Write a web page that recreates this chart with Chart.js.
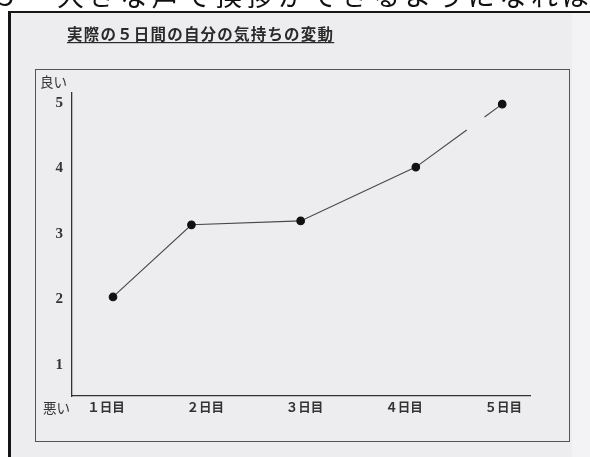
<!DOCTYPE html>
<html>
<head>
<meta charset="utf-8">
<script src="https://cdn.jsdelivr.net/npm/chart.js@4"></script>
<style>
  html, body { margin: 0; padding: 0; background: #fff; }
  #wrap { position: relative; width: 590px; height: 457px; overflow: hidden; }
  canvas { position: absolute; left: 0; top: 0; }
</style>
</head>
<body>
<div id="wrap"><canvas id="chart" width="590" height="457"></canvas></div>
<script>
// 実際の５日間の自分の気持ちの変動
const dayLabels = ['１日目', '２日目', '３日目', '４日目', '５日目'];
const dayTicks = [1, 2, 3, 4, 5];
const pointDay = [1.07, 1.86, 2.96, 4.12, 4.99];   // hand-plotted positions
const feeling = [2.04, 3.14, 3.20, 4.02, 4.98];
const feelingTicks = [1, 2, 3, 4, 5];

const jp = '"Noto Sans CJK JP", "Noto Sans", sans-serif';

// page decorations: scanned sheet, frame, heading, 良い / 悪い
const sheet = {
    id: 'sheet',
    beforeDraw(chart) {
        const ctx = chart.ctx;
        ctx.save();
        ctx.fillStyle = '#ffffff';
        ctx.fillRect(0, 0, 590, 457);
        ctx.fillStyle = '#edecef';
        ctx.fillRect(10, 13, 580, 444);
        ctx.fillStyle = '#f3f2f5';
        ctx.fillRect(572, 13, 18, 444);

        // cut-off line of the page above
        ctx.fillStyle = '#111';
        ctx.textBaseline = 'alphabetic';
        ctx.font = '27px ' + jp;
        ctx.fillText('５', -8, 6);
        ctx.letterSpacing = '4.6px';
        ctx.fillText('大きな声で挨拶ができるようになれば、', 57, 6);
        ctx.letterSpacing = '0px';

        // outer border
        ctx.fillStyle = '#151515';
        ctx.fillRect(8, 11, 582, 2);
        ctx.fillRect(8, 11, 3, 446);

        // inner frame
        ctx.strokeStyle = '#555';
        ctx.lineWidth = 1;
        ctx.strokeRect(35.5, 69.5, 534, 372);

        // heading
        ctx.fillStyle = '#2a2a2a';
        ctx.font = 'bold 15.5px ' + jp;
        ctx.letterSpacing = '1.2px';
        ctx.textBaseline = 'middle';
        const title = '実際の５日間の自分の気持ちの変動';
        ctx.fillText(title, 67, 34);
        const w = ctx.measureText(title).width;
        ctx.letterSpacing = '0px';
        ctx.fillRect(67, 42, w, 1.2);

        ctx.fillStyle = '#333';
        ctx.font = '13.5px ' + jp;
        ctx.fillText('良い', 40, 82);
        ctx.fillText('悪い', 43, 408);
        ctx.restore();
    }
};

const chart = new Chart(document.getElementById('chart'), {
    type: 'line',
    data: {
        datasets: [{
            data: pointDay.map((d, i) => ({ x: d, y: feeling[i] })),
            borderColor: '#474747',
            borderWidth: 1.1,
            pointBackgroundColor: '#111',
            pointBorderColor: '#111',
            pointRadius: 3.8,
            tension: 0,
            fill: false,
            segment: {
                // pen skipped a bit between day 4 and day 5
                borderDash: c => c.p0DataIndex === 3 ? [63, 22, 40] : undefined
            }
        }]
    },
    options: {
        responsive: false,
        animation: false,
        layout: { padding: { left: 32, top: 93, right: 60, bottom: 31 } },
        plugins: {
            legend: { display: false },
            tooltip: { enabled: false }
        },
        scales: {
            x: {
                type: 'linear',
                min: 0.657,
                max: 5.27,
                afterFit: s => { s.height = 30; },
                afterBuildTicks: s => { s.ticks = dayTicks.map(v => ({ value: v })); },
                grid: { display: false, drawTicks: false },
                border: { display: true, color: '#333', width: 1.3 },
                ticks: {
                    padding: 4,
                    color: '#333',
                    font: { family: jp, size: 12.5, weight: 'bold' },
                    callback: (v, i) => dayLabels[i]
                }
            },
            y: {
                min: 0.53,
                max: 5.15,
                afterFit: s => { s.width = 40; },
                afterBuildTicks: s => { s.ticks = feelingTicks.map(v => ({ value: v })); },
                grid: { display: false, drawTicks: false },
                border: { display: true, color: '#333', width: 1.3 },
                ticks: {
                    padding: 9,
                    color: '#333',
                    font: { family: '"Liberation Serif", serif', size: 15, weight: 'bold' }
                }
            }
        }
    },
    plugins: [sheet]
});
</script>
</body>
</html>
